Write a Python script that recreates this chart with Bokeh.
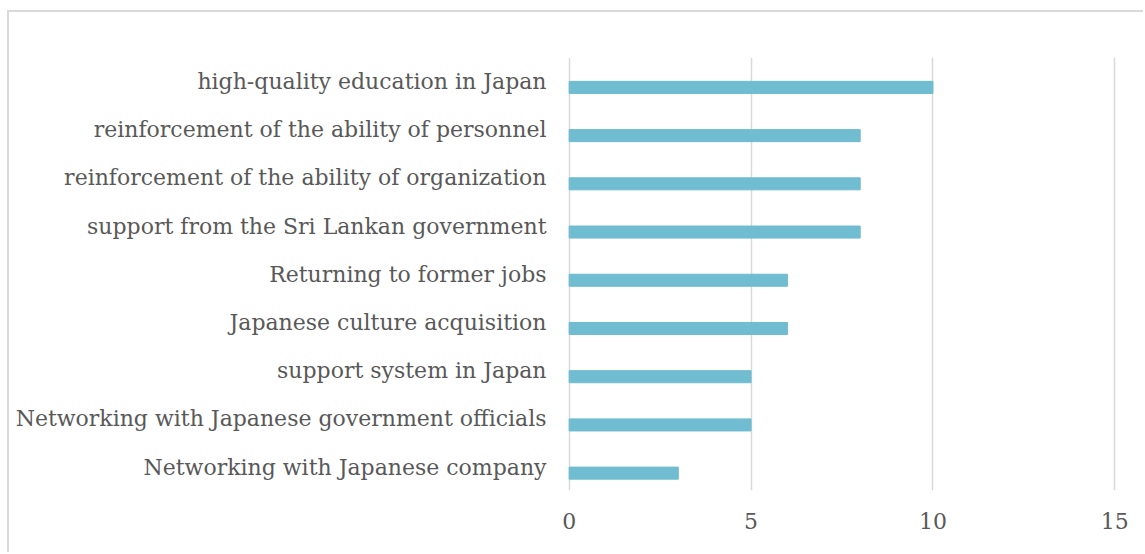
from bokeh.plotting import figure
from bokeh.models import FixedTicker
from bokeh.embed import file_html
from bokeh.resources import INLINE

# Reasons / factors, listed top to bottom
factors = [
    "high-quality education in Japan",
    "reinforcement of the ability of personnel",
    "reinforcement of the ability of organization",
    "support from the Sri Lankan government",
    "Returning to former jobs",
    "Japanese culture acquisition",
    "support system in Japan",
    "Networking with Japanese government officials",
    "Networking with Japanese company",
]
counts = [10, 8, 8, 8, 6, 6, 5, 5, 3]
x_ticks = [0, 5, 10, 15]

TEXT = "#595959"
GRID = "#d9d9d9"
BAR = "#70bcd0"
FONT = "DejaVu Serif"

# numeric row positions: first factor on top
n = len(factors)
rows = [n - 1 - i for i in range(n)]
# category labels sit slightly above the middle of their bar
label_pos = [r + 0.125 for r in rows]

p = figure(
    width=1136, height=542,
    x_range=(-0.1, 15.1), y_range=(-0.36, n - 1 + 0.62),
    output_backend="svg", toolbar_location=None,
    min_border_left=556, min_border_right=27,
    min_border_top=45, min_border_bottom=64,
)
p.margin = (10, 0, 0, 7)
p.styles = {"border-left": "2px solid #d9d9d9", "border-top": "2px solid #d9d9d9"}

p.hbar(y=rows, right=counts, left=0, height=0.25, color=BAR)

p.outline_line_color = None
p.background_fill_color = "white"
p.border_fill_color = "white"

p.xgrid.ticker = FixedTicker(ticks=x_ticks)
p.xgrid.grid_line_color = GRID
p.xgrid.grid_line_width = 1.5
p.ygrid.grid_line_color = None

p.xaxis.ticker = FixedTicker(ticks=x_ticks)
p.yaxis.ticker = FixedTicker(ticks=label_pos)
p.yaxis.major_label_overrides = {y: f for y, f in zip(label_pos, factors)}
for ax in (p.xaxis[0], p.yaxis[0]):
    ax.axis_line_color = None
    ax.major_tick_line_color = None
    ax.minor_tick_line_color = None
    ax.major_label_text_color = TEXT
    ax.major_label_text_font = FONT
    ax.major_label_text_font_size = "22px"
p.xaxis.major_label_standoff = 16
p.yaxis.major_label_standoff = 13

open("out.html", "w").write(file_html(p, INLINE))
